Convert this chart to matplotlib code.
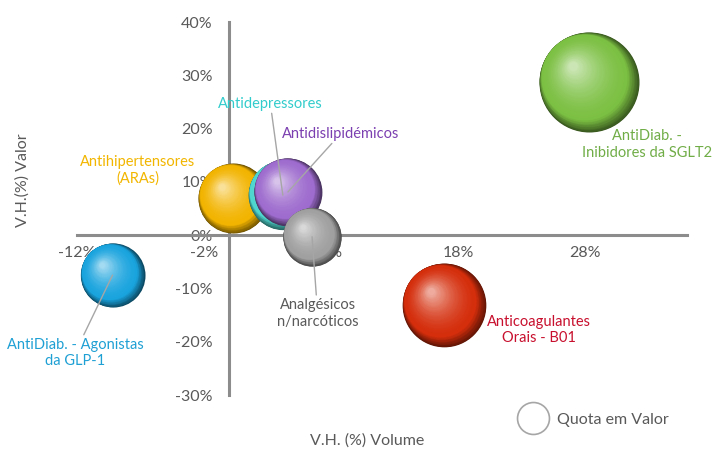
import numpy as np
import matplotlib.pyplot as plt
from matplotlib import transforms
from matplotlib.colors import to_rgb
from matplotlib.lines import Line2D
from matplotlib.ticker import FuncFormatter

plt.rcParams['font.family'] = ['Lato', 'DejaVu Sans']

# data (V.H. % volume, V.H. % valor, quota em valor)
classes = ['AntiDiab. -\nInibidores da SGLT2', 'Antihipertensores\n(ARAs)', 'Antidepressores',
           'Antidislipidémicos', 'Analgésicos\nn/narcóticos', 'AntiDiab. - Agonistas\nda GLP-1',
           'Anticoagulantes\nOrais - B01']
vh_volume = [28.3, 0.3, 4.2, 4.6, 6.5, -9.2, 16.9]
vh_valor = [28.7, 6.9, 7.5, 8.1, -0.3, -7.5, -13.1]
quota = [5.0, 2.45, 2.4, 2.3, 1.7, 2.05, 3.5]

x_ticks = [-12, -2, 8, 18, 28]
y_ticks = [-30, -20, -10, 0, 10, 20, 30, 40]

bubble_colors = ['#7CC043', '#F2B400', '#4FD6CF', '#9E6CCE', '#A0A0A0', '#1AA4DE', '#D42E0C']
label_colors = ['#70AD47', '#F2B600', '#33CCCC', '#7B3FB0', '#595959', '#1FA0D4', '#C8102E']
# label offsets in points from the bubble centre, and whether a leader line is drawn
label_offsets = [(42, -45), (-69, 20), (-9, 66), (38, 42), (4, -55), (-27, -56), (68, -18)]
leaders = [False, False, True, True, True, True, False]

fig = plt.figure(figsize=(7.14, 4.5), dpi=100)
ax = fig.add_axes([0.1078, 0.1222, 0.8543, 0.8289])
ax.set_xlim(-12, 36)
ax.set_ylim(-30, 40)
ax.set_axisbelow(True)

for side in ['top', 'right']:
    ax.spines[side].set_visible(False)
for side in ['left', 'bottom']:
    ax.spines[side].set_position(('data', 0))
    ax.spines[side].set_color('#8C8C8C')
    ax.spines[side].set_linewidth(2.2)

ax.set_xticks(x_ticks)
ax.set_yticks(y_ticks)
pct = FuncFormatter(lambda v, p: f'{v:.0f}%')
ax.xaxis.set_major_formatter(pct)
ax.yaxis.set_major_formatter(pct)
ax.tick_params(axis='both', length=0, labelsize=11.5, labelcolor='#595959')
ax.tick_params(axis='x', pad=8)
ax.tick_params(axis='y', pad=12)


def sphere_layers(base, n_dark=12, n_light=36):
    # (scale, offset along diagonal as fraction of R, colour) for each layer
    c = np.array(to_rgb(base))
    layers = []
    for k in range(n_dark):
        t = k / n_dark
        layers.append((1 - 0.14 * t, 0.14 * t, c * (0.45 + 0.55 * t)))
    for k in range(n_light):
        u = k / (n_light - 1)
        layers.append((0.86 * (1 - 0.9 * u), 0.14 + 0.32 * u, c + (1 - c) * 0.6 * u ** 1.7))
    return layers


for i in range(len(classes)):
    s0 = quota[i] * 1037
    R = np.sqrt(s0) / 2  # radius in points
    for k, (scale, d, col) in enumerate(sphere_layers(bubble_colors[i])):
        off = d * R / np.sqrt(2)
        tr = transforms.offset_copy(ax.transData, fig=fig, x=-off, y=off, units='points')
        ax.scatter(vh_volume[i], vh_valor[i], s=s0 * scale ** 2, color=col,
                   linewidths=0, transform=tr, zorder=3 + i + k * 0.001, clip_on=False)

    dx, dy = label_offsets[i]
    arrow = dict(arrowstyle='-', color='#A6A6A6', lw=1, shrinkA=0, shrinkB=0) if leaders[i] else None
    ax.annotate(classes[i], (vh_volume[i], vh_valor[i]), xytext=(dx, dy), textcoords='offset points',
                ha='center', va='center', fontsize=10.5, color=label_colors[i],
                arrowprops=arrow, zorder=20, linespacing=1.25)

fig.text(0.031, 0.6, 'V.H.(%) Valor', rotation=90, ha='center', va='center', fontsize=11.5, color='#595959')
fig.text(0.514, 0.02, 'V.H. (%) Volume', ha='center', va='center', fontsize=11.5, color='#595959')

handle = Line2D([], [], linestyle='none', marker='o', markersize=23, markerfacecolor='white',
                markeredgecolor='#A6A6A6', markeredgewidth=1.2)
fig.legend([handle], ['Quota em Valor'], loc='center', bbox_to_anchor=(0.83, 0.067), frameon=False,
           fontsize=11.5, labelcolor='#595959', handletextpad=0.5)

fig.savefig('out.png', dpi=100)
